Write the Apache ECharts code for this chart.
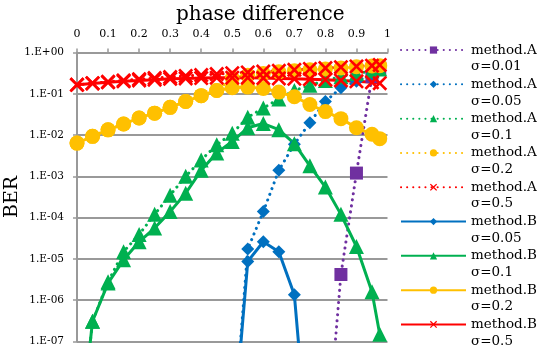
<!DOCTYPE html>
<html><head><meta charset="utf-8">
<script src="https://cdn.jsdelivr.net/npm/echarts@6/dist/echarts.min.js"></script>
<style>html,body{margin:0;padding:0;background:#fff}#c{width:539px;height:353px}</style>
</head><body><div id="c"></div>
<script>
// phase difference (x values)
const phase = [0,0.05,0.1,0.15,0.2,0.25,0.3,0.35,0.4,0.45,0.5,0.55,0.6,0.65,0.7,0.75,0.8,0.85,0.9,0.95,0.975];
const xTickLabels = ['0','0.1','0.2','0.3','0.4','0.5','0.6','0.7','0.8','0.9','1'];
const yTickLabels = ['1.E-07','1.E-06','1.E-05','1.E-04','1.E-03','1.E-02','1.E-01','1.E+00'];

// BER values per series (null = not plotted)
const methodA_s001 = [null,null,null,null,null,null,null,null,null,null,null,null,null,null,null,null,1.3e-10,4.2e-6,1.2e-3,0.26,0.42];
const methodA_s005 = [null,null,null,null,null,null,null,null,null,null,3e-10,1.75e-5,1.4e-4,1.4e-3,6e-3,0.02,0.065,0.14,0.2,0.3,0.38];
const methodA_s01  = [1e-10,3.1e-7,2.8e-6,1.5e-5,3.9e-5,1.2e-4,3.5e-4,1e-3,2.5e-3,5.8e-3,0.011,0.027,0.045,0.075,0.12,0.16,0.21,0.26,0.31,0.36,0.4];
const methodA_s02  = [0.0064,0.0093,0.0134,0.0185,0.026,0.034,0.047,0.065,0.09,0.12,0.24,0.28,0.31,0.34,0.36,0.38,0.4,0.42,0.45,0.47,0.48];
const methodA_s05  = [0.165,0.18,0.195,0.21,0.225,0.24,0.255,0.27,0.285,0.3,0.315,0.33,0.345,0.36,0.38,0.4,0.42,0.44,0.46,0.48,0.5];
const methodB_s005 = [null,null,null,null,null,null,null,null,null,null,3e-10,8.7e-6,2.6e-5,1.5e-5,1.35e-6,6e-11,null,null,null,null,null];
const methodB_s01  = [1e-10,3.1e-7,2.6e-6,9.5e-6,2.6e-5,5.6e-5,1.4e-4,3.9e-4,1.4e-3,3.7e-3,7e-3,0.015,0.019,0.0135,0.0062,1.8e-3,5.5e-4,1.2e-4,2e-5,1.6e-6,1.5e-7];
const methodB_s02  = [0.0064,0.0093,0.0134,0.0185,0.026,0.034,0.047,0.065,0.09,0.12,0.14,0.145,0.135,0.11,0.085,0.055,0.037,0.025,0.015,0.0105,0.0082];
const methodB_s05  = [0.165,0.178,0.19,0.2,0.21,0.22,0.23,0.235,0.24,0.245,0.245,0.245,0.24,0.235,0.23,0.225,0.22,0.21,0.2,0.19,0.18];

const seriesNames = ['method.A\nσ=0.01','method.A\nσ=0.05','method.A\nσ=0.1','method.A\nσ=0.2','method.A\nσ=0.5',
                     'method.B\nσ=0.05','method.B\nσ=0.1','method.B\nσ=0.2','method.B\nσ=0.5'];
const seriesValues = [methodA_s001,methodA_s005,methodA_s01,methodA_s02,methodA_s05,methodB_s005,methodB_s01,methodB_s02,methodB_s05];

const PURPLE='#7030A0', BLUE='#0070C0', GREEN='#00B050', YELLOW='#FFC000', RED='#FF0000';
const XSYM = 'path://M0,2.5L2.5,0L10,7.5L17.5,0L20,2.5L12.5,10L20,17.5L17.5,20L10,12.5L2.5,20L0,17.5L7.5,10Z';
const styles = [
  {c:PURPLE,sym:'rect',size:13,dot:true},
  {c:BLUE,sym:'diamond',size:13,dot:true},
  {c:GREEN,sym:'triangle',size:15,dot:true},
  {c:YELLOW,sym:'circle',size:15,dot:true},
  {c:RED,sym:XSYM,size:15,dot:true},
  {c:BLUE,sym:'diamond',size:13,dot:false},
  {c:GREEN,sym:'triangle',size:15,dot:false},
  {c:YELLOW,sym:'circle',size:15,dot:false},
  {c:RED,sym:XSYM,size:15,dot:false}
];

const series = seriesNames.map((name,i)=>{
  const s = styles[i];
  return {
    name, type:'line',
    data: phase.map((x,j)=>[x, seriesValues[i][j]]),
    symbol: s.sym, symbolSize: s.size, showSymbol:true, connectNulls:false, clip:true,
    itemStyle:{color:s.c, opacity:1},
    lineStyle: s.dot ? {color:s.c,width:3,type:[0.1,6],cap:'round'} : {color:s.c,width:3,type:'solid'},
    emphasis:{disabled:true},
    animation:false
  };
});

const chart = echarts.init(document.getElementById('c'), null, {renderer:'canvas'});
chart.setOption({
  animation:false,
  backgroundColor:'#fff',
  grid:{left:77, top:52.5, width:310.5, height:289, containLabel:false, outerBoundsMode:'none'},
  xAxis:{
    type:'value', position:'top', min:0, max:1, interval:0.1,
    axisLine:{show:true, lineStyle:{color:'#999', width:2}},
    axisTick:{show:true, length:4, lineStyle:{color:'#999', width:1.5}},
    axisLabel:{margin:13, color:'#000', fontFamily:'DejaVu Serif', fontSize:11,
      formatter:(v)=>xTickLabels[Math.round(v*10)]},
    splitLine:{show:false}
  },
  yAxis:{
    type:'log', logBase:10, min:1e-7, max:1,
    name:'BER', nameLocation:'middle', nameGap:55, nameMoveOverlap:false,
    nameTextStyle:{fontFamily:'DejaVu Serif', fontSize:19, color:'#000'},
    axisLine:{show:true, lineStyle:{color:'#999', width:2}},
    axisTick:{show:true, length:4, lineStyle:{color:'#999', width:1.5}},
    axisLabel:{margin:13, color:'#000', fontFamily:'DejaVu Serif', fontSize:10.5,
      formatter:(v)=>yTickLabels[Math.round(Math.log10(v))+7]},
    splitLine:{show:true, lineStyle:{color:'#999', width:2}}
  },
  legend:{
    orient:'vertical', left:400, top:25, padding:0,
    itemWidth:65, itemHeight:9, itemGap:-15.8,
    data:seriesNames,
    formatter:(name)=>'\n'+name,
    textStyle:{fontFamily:'DejaVu Serif', fontSize:13.5, color:'#000', lineHeight:16.7}
  },
  graphic:[{type:'text', left:176, top:5, style:{text:'phase difference', fontFamily:'DejaVu Serif', fontSize:20, fill:'#000'}}],
  series
});
</script></body></html>
